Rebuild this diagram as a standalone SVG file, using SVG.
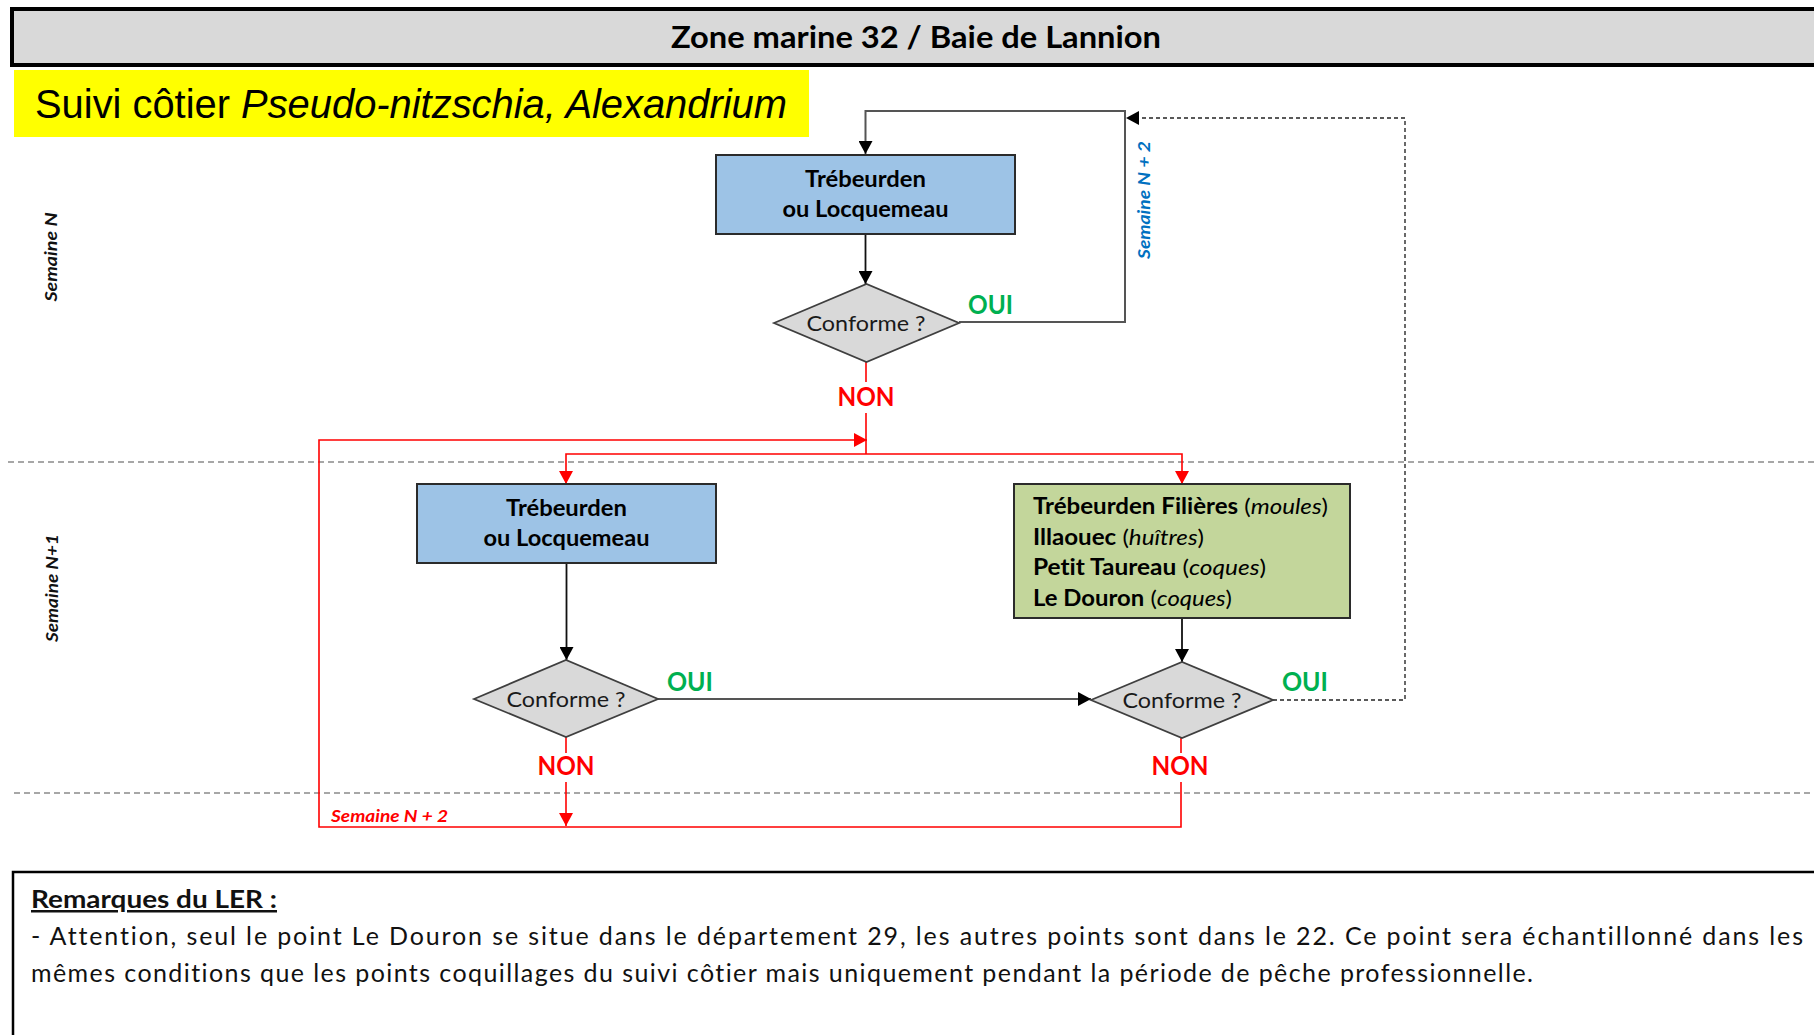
<svg xmlns="http://www.w3.org/2000/svg" width="1814" height="1035" viewBox="0 0 1814 1035">
<defs>
<marker id="ab" markerUnits="userSpaceOnUse" markerWidth="14" markerHeight="14" refX="13" refY="7" orient="auto"><path d="M0,0 L13,7 L0,14 z" fill="#000"/></marker>
<marker id="ar" markerUnits="userSpaceOnUse" markerWidth="14" markerHeight="14" refX="13" refY="7" orient="auto"><path d="M0,0 L13,7 L0,14 z" fill="#ff0000"/></marker>
</defs>
<style>
.t{font-family:Lato,"Open Sans","Liberation Sans",sans-serif;font-variant-ligatures:none}
.box{stroke:#2b2b2b;stroke-width:2}
.blue{fill:#9dc3e6}
.green{fill:#c3d69b}
.dia{fill:#d9d9d9;stroke:#3f3f3f;stroke-width:1.8}
.bt{font-size:22px;font-weight:bold;fill:#000;text-anchor:middle}
.ct{font-size:22px;fill:#1a1a1a;text-anchor:middle}
.oui{font-size:26px;font-weight:bold;fill:#00b050}
.non{font-size:26px;font-weight:bold;fill:#ff0000;text-anchor:middle}
.sem{font-size:17px;font-weight:bold;font-style:italic}
.sep{stroke:#8a8a8a;stroke-width:1.4;stroke-dasharray:6 4;fill:none}
.cb{stroke:#111;stroke-width:1.8;fill:none}
.cg{stroke:#555;stroke-width:2;fill:none}
.cr{stroke:#ff0000;stroke-width:1.6;fill:none}
.cd{stroke:#595959;stroke-width:1.8;stroke-dasharray:4 3;fill:none}
.rm{font-size:25px;fill:#111}
</style>
<rect width="1814" height="1035" fill="#fff"/>

<g id="title-bar">
<rect x="12" y="9" width="1830" height="56" fill="#d9d9d9" stroke="#000" stroke-width="4"/>
<text class="t" x="916" y="48" font-size="30" font-weight="bold" text-anchor="middle" textLength="490" lengthAdjust="spacingAndGlyphs">Zone marine 32 / Baie de Lannion</text>
</g>

<g id="subtitle">
<rect x="14" y="70" width="795" height="67" fill="#ffff00"/>
<text x="35" y="118" font-family="'Liberation Sans',Arial,sans-serif" font-size="40" fill="#000" textLength="752" lengthAdjust="spacingAndGlyphs">Suivi côtier <tspan font-style="italic">Pseudo-nitzschia,  Alexandrium</tspan></text>
</g>

<g id="separators">
<line class="sep" x1="8" y1="462" x2="1814" y2="462"/>
<line class="sep" x1="14" y1="793" x2="1814" y2="793"/>
</g>

<g id="week-labels">
<text class="t sem" transform="translate(57,257) rotate(-90)" text-anchor="middle" fill="#111" textLength="89" lengthAdjust="spacingAndGlyphs">Semaine N</text>
<text class="t sem" transform="translate(58,588) rotate(-90)" text-anchor="middle" fill="#111" textLength="108" lengthAdjust="spacingAndGlyphs">Semaine N+1</text>
</g>

<g id="connectors">
<path class="cg" d="M959,322 H1125 V111 H865.5 V154" marker-end="url(#ab)"/>
<path class="cb" d="M865.5,234 V284" marker-end="url(#ab)"/>
<path class="cd" d="M1273,700 H1405 V118 H1126" marker-end="url(#ab)"/>
<path class="cr" d="M866,362 V382"/>
<path class="cr" d="M866,413 V454"/>
<path class="cr" d="M866,454 H566 V484" marker-end="url(#ar)"/>
<path class="cr" d="M866,454 H1182 V484" marker-end="url(#ar)"/>
<path class="cr" d="M1181,738 V753"/>
<path class="cr" d="M1181,782 V827 H319 V440 H867" marker-end="url(#ar)"/>
<path class="cr" d="M566,737 V753"/>
<path class="cr" d="M566,782 V826" marker-end="url(#ar)"/>
<path class="cb" d="M566.5,563 V660" marker-end="url(#ab)"/>
<path class="cg" d="M658,699 H1091" marker-end="url(#ab)"/>
<path class="cb" d="M1182,618 V662" marker-end="url(#ab)"/>
</g>

<g id="connector-labels">
<text class="t oui" x="968" y="314" textLength="45" lengthAdjust="spacingAndGlyphs">OUI</text>
<text class="t non" x="866" y="406" textLength="57" lengthAdjust="spacingAndGlyphs">NON</text>
<text class="t oui" x="667" y="691" textLength="46" lengthAdjust="spacingAndGlyphs">OUI</text>
<text class="t non" x="566" y="775" textLength="57" lengthAdjust="spacingAndGlyphs">NON</text>
<text class="t oui" x="1282" y="691" textLength="46" lengthAdjust="spacingAndGlyphs">OUI</text>
<text class="t non" x="1180" y="775" textLength="57" lengthAdjust="spacingAndGlyphs">NON</text>
<text class="t sem" transform="translate(1150,200) rotate(-90)" text-anchor="middle" fill="#0070c0" textLength="118" lengthAdjust="spacingAndGlyphs">Semaine N + 2</text>
<text class="t sem" x="331" y="822" fill="#ff0000" textLength="117" lengthAdjust="spacingAndGlyphs">Semaine N + 2</text>
</g>

<g id="node-top-site">
<rect class="box blue" x="716" y="155" width="299" height="79"/>
<text class="t bt" x="865.5" y="187" textLength="121" lengthAdjust="spacingAndGlyphs">Trébeurden</text>
<text class="t bt" x="865.5" y="217" textLength="166" lengthAdjust="spacingAndGlyphs">ou Locquemeau</text>
</g>

<g id="node-top-check">
<polygon class="dia" points="774,323 866.5,284 959,323 866.5,362"/>
<text class="t ct" x="866" y="331" textLength="119" lengthAdjust="spacingAndGlyphs">Conforme ?</text>
</g>

<g id="node-left-site">
<rect class="box blue" x="417" y="484" width="299" height="79"/>
<text class="t bt" x="566.5" y="516" textLength="121" lengthAdjust="spacingAndGlyphs">Trébeurden</text>
<text class="t bt" x="566.5" y="546" textLength="166" lengthAdjust="spacingAndGlyphs">ou Locquemeau</text>
</g>

<g id="node-left-check">
<polygon class="dia" points="474,699 566,660 658,699 566,737"/>
<text class="t ct" x="566" y="707" textLength="119" lengthAdjust="spacingAndGlyphs">Conforme ?</text>
</g>

<g id="node-shellfish-sites">
<rect class="box green" x="1014" y="484" width="336" height="134"/>
<text class="t" x="1033" y="514" font-size="22" fill="#000" textLength="295" lengthAdjust="spacingAndGlyphs"><tspan font-weight="bold">Trébeurden Filières</tspan> (<tspan font-style="italic">moules</tspan>)</text>
<text class="t" x="1033" y="544.5" font-size="22" fill="#000" textLength="171" lengthAdjust="spacingAndGlyphs"><tspan font-weight="bold">Illaouec</tspan> (<tspan font-style="italic">huîtres</tspan>)</text>
<text class="t" x="1033" y="575" font-size="22" fill="#000" textLength="233" lengthAdjust="spacingAndGlyphs"><tspan font-weight="bold">Petit Taureau</tspan>  (<tspan font-style="italic">coques</tspan>)</text>
<text class="t" x="1033" y="605.5" font-size="22" fill="#000" textLength="199" lengthAdjust="spacingAndGlyphs"><tspan font-weight="bold">Le Douron</tspan>  (<tspan font-style="italic">coques</tspan>)</text>
</g>

<g id="node-right-check">
<polygon class="dia" points="1091,700 1182,662 1273,700 1182,738"/>
<text class="t ct" x="1182" y="708" textLength="119" lengthAdjust="spacingAndGlyphs">Conforme ?</text>
</g>

<g id="remarks">
<rect x="13" y="872" width="1830" height="200" fill="none" stroke="#000" stroke-width="2.5"/>
<text class="t rm" x="31" y="908" font-weight="bold" text-decoration="underline" textLength="246" lengthAdjust="spacingAndGlyphs">Remarques du LER :</text>
<text class="t rm" x="31" y="945" textLength="1772" lengthAdjust="spacing">- Attention, seul le point Le Douron se situe dans le département 29, les autres points sont dans le 22. Ce point sera échantillonné dans les</text>
<text class="t rm" x="31" y="982" textLength="1502" lengthAdjust="spacing">mêmes conditions que les points coquillages du suivi côtier mais uniquement pendant la période de pêche professionnelle.</text>
</g>
</svg>
